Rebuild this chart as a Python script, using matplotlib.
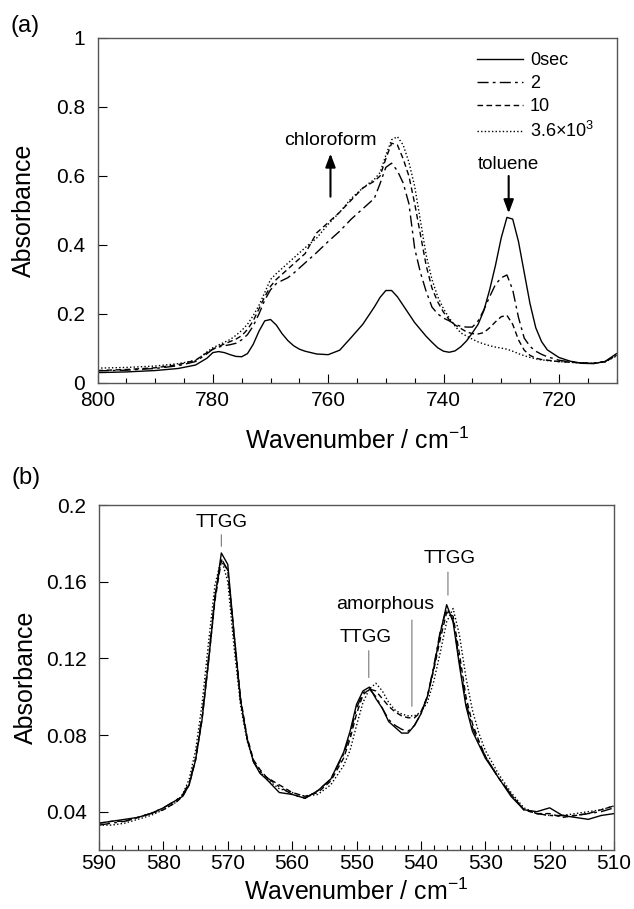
import matplotlib
matplotlib.use('Agg')
import matplotlib.pyplot as plt
from matplotlib.ticker import MultipleLocator

plt.rcParams['font.family'] = ['Liberation Sans', 'DejaVu Sans']
plt.rcParams['mathtext.fontset'] = 'custom'
plt.rcParams['mathtext.rm'] = 'Liberation Sans'
plt.rcParams['mathtext.it'] = 'Liberation Sans:italic'

# ---- (a) 800-710 cm-1, chloroform / toluene bands ----
wn_a = [800, 795, 790, 786, 783, 781, 780, 779, 778, 777, 776, 775, 774, 773,
        772, 771, 770, 769, 768, 767, 766, 765, 764, 762, 760, 758, 756, 754,
        753, 752, 751, 750, 749, 748, 747, 746, 745, 744, 743, 742, 741, 740,
        739, 738, 737, 736, 735, 734, 733, 732, 731, 730, 729, 728, 727, 726,
        725, 724, 723, 722, 720, 718, 716, 714, 712, 710]

abs_a_0 = [0.030, 0.032, 0.036, 0.042, 0.052, 0.072, 0.088, 0.091, 0.088, 0.082,
           0.077, 0.076, 0.085, 0.112, 0.150, 0.180, 0.184, 0.168, 0.143, 0.123,
           0.108, 0.098, 0.092, 0.084, 0.082, 0.095, 0.132, 0.170, 0.195, 0.220,
           0.248, 0.268, 0.268, 0.250, 0.225, 0.200, 0.175, 0.155, 0.135, 0.118,
           0.102, 0.092, 0.089, 0.093, 0.105, 0.122, 0.145, 0.170, 0.210, 0.270,
           0.340, 0.420, 0.480, 0.475, 0.410, 0.320, 0.230, 0.160, 0.120, 0.096,
           0.074, 0.063, 0.057, 0.056, 0.062, 0.085]

abs_a_2 = [0.035, 0.037, 0.042, 0.050, 0.062, 0.085, 0.098, 0.104, 0.108, 0.111,
           0.115, 0.125, 0.140, 0.165, 0.200, 0.240, 0.270, 0.288, 0.297, 0.305,
           0.318, 0.333, 0.348, 0.378, 0.410, 0.440, 0.475, 0.505, 0.520, 0.535,
           0.578, 0.625, 0.637, 0.615, 0.580, 0.520, 0.390, 0.320, 0.265, 0.220,
           0.200, 0.188, 0.180, 0.170, 0.164, 0.162, 0.162, 0.180, 0.212, 0.250,
           0.285, 0.305, 0.313, 0.270, 0.190, 0.130, 0.106, 0.092, 0.083, 0.076,
           0.066, 0.061, 0.058, 0.057, 0.062, 0.080]

abs_a_10 = [0.036, 0.039, 0.044, 0.053, 0.066, 0.088, 0.098, 0.106, 0.113, 0.120,
            0.127, 0.137, 0.155, 0.180, 0.215, 0.250, 0.280, 0.300, 0.315, 0.330,
            0.345, 0.360, 0.375, 0.435, 0.465, 0.495, 0.530, 0.565, 0.575, 0.585,
            0.600, 0.650, 0.695, 0.690, 0.650, 0.600, 0.520, 0.430, 0.340, 0.275,
            0.235, 0.205, 0.183, 0.168, 0.158, 0.148, 0.143, 0.142, 0.146, 0.160,
            0.177, 0.192, 0.196, 0.170, 0.125, 0.095, 0.080, 0.072, 0.068, 0.066,
            0.062, 0.060, 0.058, 0.057, 0.062, 0.080]

abs_a_3600 = [0.043, 0.045, 0.049, 0.056, 0.065, 0.090, 0.102, 0.110, 0.118, 0.126,
              0.138, 0.152, 0.170, 0.195, 0.225, 0.262, 0.300, 0.317, 0.332, 0.347,
              0.362, 0.377, 0.392, 0.420, 0.460, 0.495, 0.535, 0.565, 0.578, 0.590,
              0.610, 0.660, 0.705, 0.714, 0.690, 0.640, 0.570, 0.470, 0.370, 0.300,
              0.250, 0.215, 0.188, 0.165, 0.145, 0.136, 0.127, 0.119, 0.113, 0.108,
              0.104, 0.101, 0.098, 0.092, 0.085, 0.079, 0.074, 0.070, 0.067, 0.065,
              0.062, 0.060, 0.058, 0.057, 0.061, 0.078]

# ---- (b) 590-510 cm-1, TTGG / amorphous bands ----
wn_b = [590, 588, 586, 584, 582, 580, 578, 577, 576, 575, 574, 573, 572, 571,
        570, 569, 568, 567, 566, 565, 564, 562, 560, 558, 556, 554, 552, 551,
        550, 549, 548, 547, 546, 545, 544, 543, 542, 541, 540, 539, 538, 537,
        536, 535, 534, 533, 532, 531, 530, 528, 526, 524, 522, 520, 518, 516,
        514, 512, 510]

abs_b_0 = [0.034, 0.035, 0.036, 0.037, 0.039, 0.042, 0.046, 0.048, 0.054, 0.067,
           0.088, 0.118, 0.151, 0.175, 0.169, 0.132, 0.098, 0.078, 0.066, 0.060,
           0.057, 0.050, 0.049, 0.047, 0.051, 0.057, 0.071, 0.082, 0.096, 0.103,
           0.105, 0.099, 0.094, 0.087, 0.084, 0.081, 0.081, 0.085, 0.091, 0.100,
           0.115, 0.133, 0.148, 0.139, 0.116, 0.095, 0.082, 0.075, 0.068, 0.058,
           0.048, 0.041, 0.040, 0.042, 0.038, 0.037, 0.036, 0.038, 0.039]

abs_b_2 = [0.033, 0.034, 0.035, 0.037, 0.039, 0.042, 0.046, 0.049, 0.055, 0.068,
           0.090, 0.120, 0.152, 0.172, 0.166, 0.130, 0.097, 0.078, 0.066, 0.061,
           0.058, 0.053, 0.049, 0.047, 0.051, 0.057, 0.070, 0.080, 0.094, 0.102,
           0.104, 0.100, 0.094, 0.088, 0.085, 0.083, 0.082, 0.085, 0.091, 0.100,
           0.116, 0.134, 0.146, 0.140, 0.118, 0.097, 0.084, 0.076, 0.069, 0.058,
           0.049, 0.041, 0.039, 0.038, 0.038, 0.038, 0.039, 0.040, 0.042]

abs_b_10 = [0.034, 0.035, 0.035, 0.037, 0.039, 0.041, 0.045, 0.048, 0.054, 0.067,
            0.088, 0.118, 0.150, 0.171, 0.166, 0.132, 0.099, 0.079, 0.067, 0.062,
            0.058, 0.054, 0.050, 0.048, 0.050, 0.056, 0.068, 0.078, 0.091, 0.101,
            0.104, 0.103, 0.099, 0.095, 0.092, 0.090, 0.089, 0.089, 0.092, 0.100,
            0.114, 0.130, 0.144, 0.142, 0.122, 0.100, 0.086, 0.077, 0.069, 0.058,
            0.049, 0.041, 0.039, 0.039, 0.037, 0.038, 0.039, 0.041, 0.043]

abs_b_3600 = [0.033, 0.033, 0.034, 0.036, 0.038, 0.041, 0.045, 0.049, 0.057, 0.072,
              0.096, 0.128, 0.158, 0.172, 0.160, 0.125, 0.095, 0.077, 0.066, 0.061,
              0.057, 0.052, 0.050, 0.048, 0.049, 0.054, 0.064, 0.072, 0.085, 0.097,
              0.104, 0.107, 0.103, 0.097, 0.093, 0.091, 0.090, 0.090, 0.092, 0.097,
              0.108, 0.123, 0.139, 0.146, 0.132, 0.110, 0.093, 0.081, 0.072, 0.060,
              0.050, 0.042, 0.039, 0.038, 0.038, 0.039, 0.040, 0.041, 0.043]

labels = ['0sec', '2', '10', '3.6\u00d710$^3$']
styles = ['-', (0, (8, 3, 2, 3)), (0, (4, 2.5)), (0, (1, 1.6))]

fig = plt.figure(figsize=(6.34, 9.09), dpi=100)
ax1 = fig.add_axes([0.1538, 0.5787, 0.8186, 0.3795])
ax2 = fig.add_axes([0.1562, 0.0649, 0.8123, 0.3795])

for y, lab, ls in zip([abs_a_0, abs_a_2, abs_a_10, abs_a_3600], labels, styles):
    ax1.plot(wn_a, y, color='black', lw=1.0, ls=ls, label=lab)
for y, ls in zip([abs_b_0, abs_b_2, abs_b_10, abs_b_3600], styles):
    ax2.plot(wn_b, y, color='black', lw=1.0, ls=ls)

ax1.set_xlim(800, 710)
ax1.set_ylim(0, 1)
ax1.set_xticks([800, 780, 760, 740, 720])
ax1.xaxis.set_minor_locator(MultipleLocator(5))
ax1.set_yticks([0, 0.2, 0.4, 0.6, 0.8, 1.0])
ax1.set_yticklabels(['0', '0.2', '0.4', '0.6', '0.8', '1'])

ax2.set_xlim(590, 510)
ax2.set_ylim(0.02, 0.2)
ax2.set_xticks([590, 580, 570, 560, 550, 540, 530, 520, 510])
ax2.xaxis.set_minor_locator(MultipleLocator(2))
ax2.set_yticks([0.04, 0.08, 0.12, 0.16, 0.2])
ax2.set_yticklabels(['0.04', '0.08', '0.12', '0.16', '0.2'])

for ax in (ax1, ax2):
    for sp in ax.spines.values():
        sp.set_color('#555555')
        sp.set_linewidth(1.0)
    ax.tick_params(which='both', direction='in', top=False, right=False,
                   labelsize=15, width=0.8)
    ax.tick_params(which='major', length=6.5)
    ax.tick_params(which='minor', length=3.8)
    ax.tick_params(axis='y', pad=9)
    ax.set_ylabel('Absorbance', fontsize=18)
    ax.yaxis.set_label_coords(-0.118, 0.5)
    ax.set_xlabel('Wavenumber / cm$^{-1}$', fontsize=18)

ax1.tick_params(axis='x', pad=6)
ax2.tick_params(axis='x', pad=3)
ax1.xaxis.set_label_coords(0.5, -0.128)
ax2.xaxis.set_label_coords(0.5, -0.084)

leg = ax1.legend(loc='upper left', bbox_to_anchor=(0.732, 0.958), frameon=False,
                 fontsize=13, handlelength=2.5, handletextpad=0.4,
                 labelspacing=0.32, borderpad=0, borderaxespad=0)

# arrows and labels in (a)
ax1.annotate('', xy=(759.6, 0.665), xytext=(759.6, 0.54),
             arrowprops=dict(arrowstyle='-|>,head_width=0.3,head_length=0.8',
                             color='black', lw=1.5, shrinkA=0, shrinkB=0))
ax1.text(759.6, 0.704, 'chloroform', ha='center', va='center', fontsize=14)
ax1.annotate('', xy=(728.7, 0.492), xytext=(728.7, 0.60),
             arrowprops=dict(arrowstyle='-|>,head_width=0.3,head_length=0.8',
                             color='black', lw=1.5, shrinkA=0, shrinkB=0))
ax1.text(728.7, 0.632, 'toluene', ha='center', va='center', fontsize=13.5)

# band assignments in (b)
lead = dict(arrowstyle='-', color='#777777', lw=0.8, shrinkA=0, shrinkB=0)
ax2.text(571.0, 0.191, 'TTGG', ha='center', va='center', fontsize=13.5)
ax2.annotate('', xy=(571.0, 0.1785), xytext=(571.0, 0.1845), arrowprops=lead)
ax2.text(535.6, 0.172, 'TTGG', ha='center', va='center', fontsize=13.5)
ax2.annotate('', xy=(535.8, 0.153), xytext=(535.8, 0.165), arrowprops=lead)
ax2.text(548.6, 0.131, 'TTGG', ha='center', va='center', fontsize=13.5)
ax2.annotate('', xy=(548.1, 0.110), xytext=(548.1, 0.124), arrowprops=lead)
ax2.text(545.5, 0.148, 'amorphous', ha='center', va='center', fontsize=14)
ax2.annotate('', xy=(541.4, 0.095), xytext=(541.4, 0.140), arrowprops=lead)

fig.text(25 / 634, 1 - 26 / 909, '(a)', ha='center', va='center', fontsize=17)
fig.text(26 / 634, 1 - 478 / 909, '(b)', ha='center', va='center', fontsize=17)

fig.savefig('out.png', dpi=100)
